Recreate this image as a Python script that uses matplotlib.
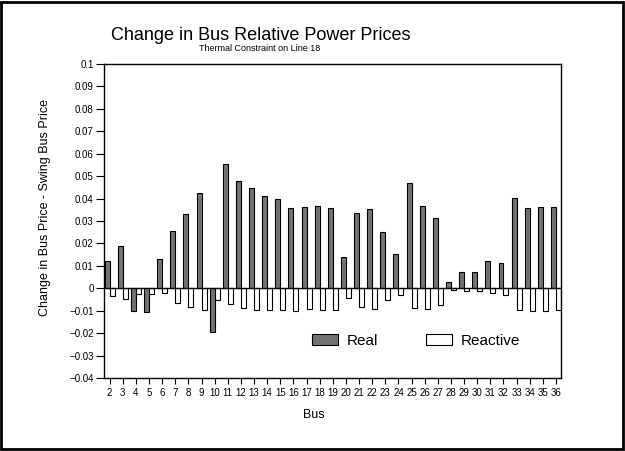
import matplotlib
matplotlib.use("Agg")
import matplotlib.pyplot as plt
from matplotlib.patches import Rectangle
import numpy as np

plt.rcParams['font.family'] = ['Liberation Sans', 'DejaVu Sans']

# bus numbers and price changes
buses = list(range(2, 37))
real = [0.0122, 0.0190, -0.0101, -0.0107, 0.0129, 0.0257, 0.0330, 0.0424, -0.0196,
        0.0553, 0.0480, 0.0445, 0.0410, 0.0397, 0.0360, 0.0362, 0.0366, 0.0360,
        0.0141, 0.0335, 0.0353, 0.0253, 0.0152, 0.0470, 0.0366, 0.0315, 0.0028,
        0.0074, 0.0073, 0.0123, 0.0112, 0.0403, 0.0357, 0.0362, 0.0362]
reactive = [-0.0036, -0.0049, -0.0025, -0.0025, -0.0022, -0.0064, -0.0083, -0.0095, -0.0054,
            -0.0068, -0.0089, -0.0098, -0.0098, -0.0098, -0.0103, -0.0092, -0.0097, -0.0098,
            -0.0043, -0.0085, -0.0091, -0.0052, -0.0028, -0.0089, -0.0094, -0.0076, -0.0006,
            -0.0013, -0.0013, -0.0022, -0.0031, -0.0098, -0.0103, -0.0103, -0.0098]
yticks = [-0.04, -0.03, -0.02, -0.01, 0, 0.01, 0.02, 0.03, 0.04, 0.05, 0.06, 0.07, 0.08, 0.09, 0.1]
ytick_labels = ["\u22120.04", "\u22120.03", "\u22120.02", "\u22120.01", "0", "0.01", "0.02",
                "0.03", "0.04", "0.05", "0.06", "0.07", "0.08", "0.09", "0.1"]

fig = plt.figure(figsize=(6.25, 4.51), dpi=100)
ax = fig.add_axes([104/625, 1 - 378/451, 457/625, 314/451])

x = np.array(buses)
w = 0.38
ax.bar(x - w/2, real, w, color="#737373", edgecolor="black", linewidth=0.8, label="Real")
ax.bar(x + w/2, reactive, w, color="white", edgecolor="black", linewidth=0.8, label="Reactive")
ax.axhline(0, color="black", linewidth=1)

ax.set_xlim(2 - w - 0.05, 36 + w)
ax.set_ylim(-0.04, 0.1)
ax.set_xticks(buses)
ax.set_xticklabels([str(b) for b in buses], fontsize=7)
ax.set_yticks(yticks)
ax.set_yticklabels(ytick_labels, fontsize=7)
ax.tick_params(axis="y", direction="out", length=6, width=0.8, pad=1.5)
ax.tick_params(axis="x", direction="out", length=4, width=0.8, pad=3)
for s in ax.spines.values():
    s.set_linewidth(1)

fig.text(314/625, 1 - 415/451, "Bus", ha="center", va="center", fontsize=9)
fig.text(45/625, 1 - 208/451, "Change in Bus Price - Swing Bus Price", rotation=90,
         ha="center", va="center", fontsize=9)

ax.legend(loc="center", bbox_to_anchor=(0.683, 0.118), ncol=2, frameon=False,
          fontsize=11, handlelength=1.7, handleheight=0.75, columnspacing=3.1,
          handletextpad=0.6)

fig.text(261/625, 1 - 35/451, "Change in Bus Relative Power Prices", ha="center",
         va="center", fontsize=13)
fig.text(260/625, 1 - 48.5/451, "Thermal Constraint on Line 18", ha="center",
         va="center", fontsize=6.5)

fig.patches.append(Rectangle((1/625, 2/451), 622/625, 447/451, transform=fig.transFigure,
                             fill=False, edgecolor="black", linewidth=2))

fig.savefig("out.png", dpi=100)
